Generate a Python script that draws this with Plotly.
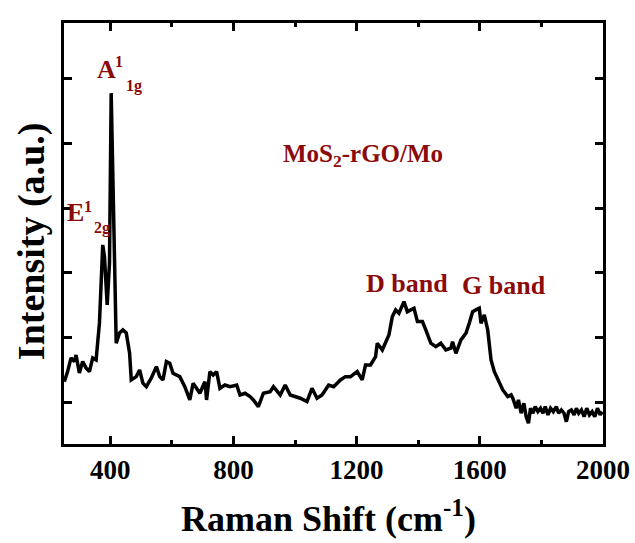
import plotly.graph_objects as go

# Raman spectrum of MoS2-rGO/Mo (intensity in arbitrary units)
shift_cm = [
    251, 261.7, 272.8, 283.6, 289.1, 299.9, 310.6, 321.7, 332.5, 343.2, 354.3,
    365.1, 375.8, 381.4, 390.2, 397.7, 403.2, 414.0, 419.5, 430.3, 441.0,
    452.1, 462.9, 468.4, 484.7, 495.5, 506.2, 517.3, 533.6, 549.9, 560.7,
    571.4, 582.5, 593.3, 604.0, 625.9, 642.2, 658.5, 669.2, 680.3, 691.1,
    707.4, 712.9, 723.7, 734.4, 745.5, 756.3, 772.6, 788.9, 810.7, 821.5,
    837.8, 854.1, 864.8, 881.1, 897.4, 919.3, 930.0, 951.9, 968.2, 984.5,
    1017.1, 1038.9, 1055.2, 1071.5, 1087.8, 1109.3, 1125.6, 1147.5, 1163.8,
    1180.1, 1201.9, 1218.2, 1229.0, 1245.3, 1261.6, 1267.1, 1283.4, 1294.2,
    1304.9, 1316.0, 1326.8, 1337.5, 1353.8, 1364.9, 1386.4, 1397.5, 1413.8,
    1424.6, 1440.9, 1457.2, 1473.5, 1489.8, 1506.1, 1511.6, 1522.4, 1538.7,
    1555.0, 1565.7, 1576.8, 1587.6, 1598.3, 1603.9, 1614.6, 1625.7, 1636.5,
    1647.2, 1658.3, 1674.6, 1690.9, 1701.7, 1707.2, 1718.0, 1725.5, 1734.3,
    1743.1, 1750.6, 1758.1, 1764.6, 1772.4, 1779.9, 1788.7, 1797.2, 1805.0,
    1812.5, 1821.3, 1829.8, 1838.6, 1848.4, 1855.9, 1864.7, 1873.5, 1881.0,
    1888.5, 1897.3, 1906.1, 1913.6, 1921.1, 1929.9, 1938.7, 1947.2, 1955.9,
    1964.8, 1973.2, 1982.0, 1990.8, 1997.4,
]
intensity = [
    31.8, 47.3, 68.5, 62.8, 73.1, 45.3, 62.8, 53.0, 47.3, 68.5, 65.4,
    122.6, 243.1, 225.0, 150.4, 215.3, 477.6, 199.8, 91.2, 107.1, 111.7,
    107.1, 76.2, 34.5, 39.6, 49.9, 29.4, 24.1, 37.6, 55.0, 39.6,
    34.5, 62.8, 60.3, 44.8, 39.6, 24.1, 3.6, 29.4, 21.6, 13.9,
    31.8, 3.6, 47.3, 42.2, 47.3, 21.6, 26.7, 24.1, 26.7, 11.3,
    13.9, 8.7, 3.6, -6.8, 13.9, 16.4, 24.1, 11.3, 26.7, 11.3,
    6.2, 0.9, 21.6, 6.2, 11.3, 26.7, 24.1, 34.5, 39.6,
    39.6, 47.3, 34.5, 57.7, 57.7, 70.5, 91.2, 80.8, 93.7,
    104.0, 132.3, 142.7, 137.6, 155.5, 140.0, 145.3, 124.6, 124.6,
    111.7, 91.2, 85.9, 91.2, 80.8, 83.5, 93.7, 75.7, 96.3,
    106.6, 122.1, 140.0, 142.7, 145.3, 122.1, 134.9, 111.7, 65.4,
    47.3, 34.5, 19.0, 8.7, 11.3, 6.2, -9.3, 3.6, -17.0,
    -1.5, -22.3, -32.5, -9.3, -17.0, -6.8, -14.5, -9.3, -17.0,
    -6.8, -19.6, -9.3, -14.5, -6.8, -17.0, -11.9, -17.0, -30.0,
    -14.5, -11.9, -19.6, -9.3, -17.0, -11.9, -22.3, -9.3, -19.6,
    -14.5, -22.3, -9.3, -19.6, -14.5,
]

x_ticks = [400, 800, 1200, 1600, 2000]
y_ticks = [0, 100, 200, 300, 400, 500]

SERIF = "Liberation Serif"
LABEL_RED = "#8B0A0A"

fig = go.Figure()
fig.add_trace(go.Scatter(
    x=shift_cm, y=intensity, mode="lines",
    line=dict(color="black", width=3.5),
    showlegend=False, hoverinfo="skip",
))

# Peak labels: (text, x, y, font size, horizontal anchor)
labels = [
    ("A", 352, 514, 26, "left"),
    ("1", 430, 527, 16, "center"),
    ("1g", 445, 488, 16, "left"),
    ("E", 254, 293, 26, "left"),
    ("1", 328, 303, 16, "center"),
    ("2g", 340, 269, 16, "left"),
    ("MoS<sub>2</sub>-rGO/Mo", 1222, 381, 25, "center"),
    ("D band", 1362, 183, 26, "center"),
    ("G band", 1680, 181, 26, "center"),
]
for text, lx, ly, size, anchor in labels:
    fig.add_annotation(
        x=lx, y=ly, xref="x", yref="y", text=f"<b>{text}</b>",
        showarrow=False, xanchor=anchor, yanchor="middle",
        font=dict(family=SERIF, size=size, color=LABEL_RED),
    )

# Axis titles
fig.add_annotation(
    x=0.49, y=-0.172, xref="paper", yref="paper",
    text="<b>Raman Shift (cm<sup>-1</sup>)</b>", showarrow=False,
    xanchor="center", yanchor="middle",
    font=dict(family=SERIF, size=36, color="black"),
)
fig.add_annotation(
    x=-0.06, y=0.481, xref="paper", yref="paper",
    text="<b>Intensity (a.u.)</b>", showarrow=False, textangle=-90,
    xanchor="center", yanchor="middle",
    font=dict(family=SERIF, size=38, color="black"),
)

axis_common = dict(
    showline=True, linecolor="black", linewidth=2.5, mirror="allticks",
    ticks="inside", tickcolor="black", tickwidth=2.5, ticklen=8,
    showgrid=False, zeroline=False, automargin=False,
)

fig.update_xaxes(
    range=[250, 2000], tickvals=x_ticks,
    ticktext=[f"<b>{v}</b>" for v in x_ticks],
    tickfont=dict(family=SERIF, size=27, color="black"),
    minor=dict(dtick=200, tick0=0, ticks="inside", ticklen=4,
               tickwidth=2.5, tickcolor="black"),
    **axis_common,
)
fig.update_yaxes(
    range=[-64.5, 586], tickvals=y_ticks, showticklabels=False,
    **axis_common,
)

fig.update_layout(
    width=635, height=543,
    margin=dict(l=64, r=32, t=23, b=99),
    paper_bgcolor="white", plot_bgcolor="white",
)

fig.write_html("out.html")
